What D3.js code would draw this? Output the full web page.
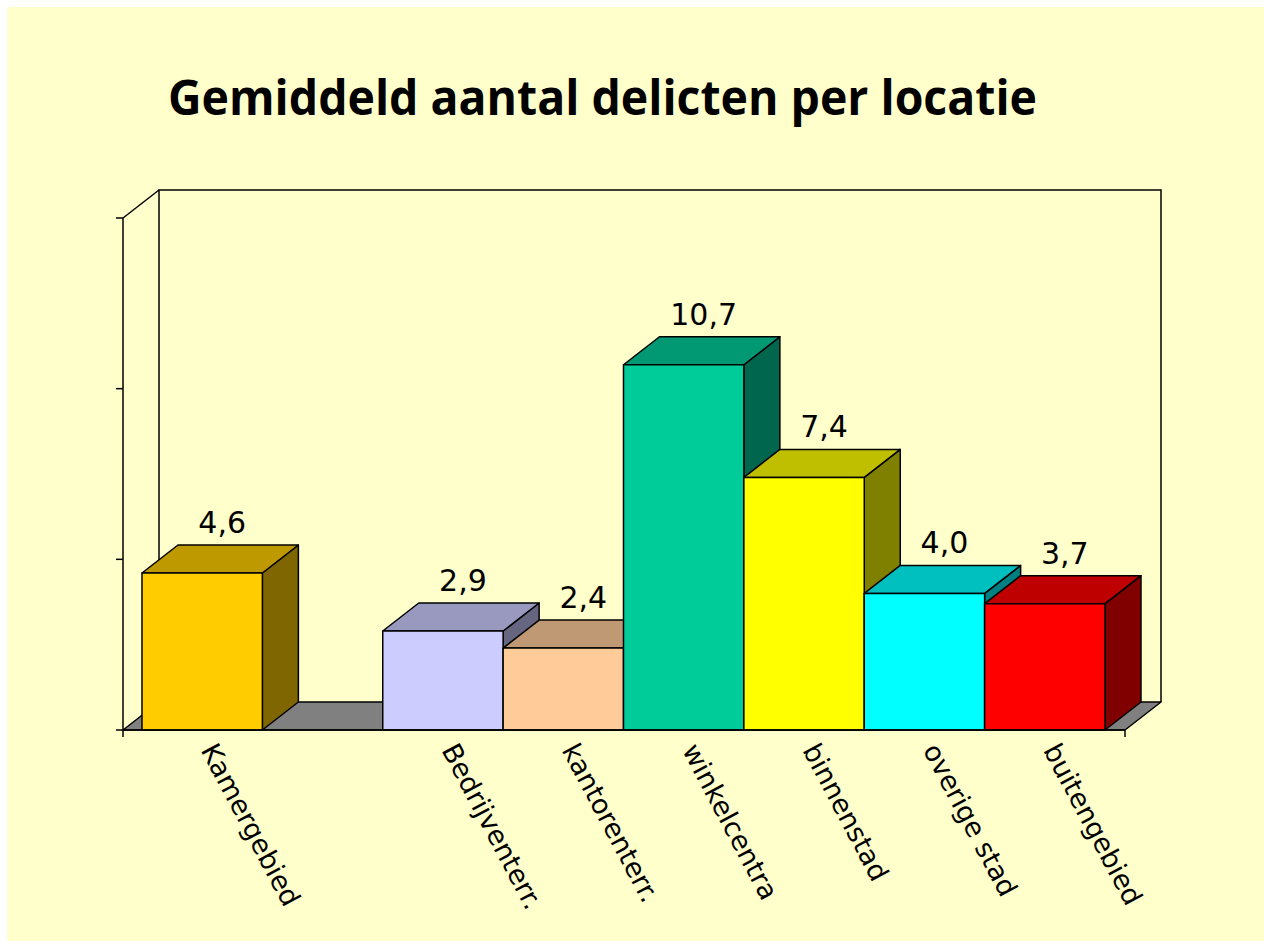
<!DOCTYPE html>
<html>
<head>
  <meta charset="utf-8">
  <script src="https://d3js.org/d3.v7.min.js"></script>
  <style>
      body { margin: 0; background-color: #ffffff; }
      svg { display: block; }
  </style>
</head>
<body>
<script>
var width = 1264;
var height = 941;

// data
var categories = ["Kamergebied", "", "Bedrijventerr.", "kantorenterr.", "winkelcentra", "binnenstad", "overige stad", "buitengebied"];
var values = [4.6, null, 2.9, 2.4, 10.7, 7.4, 4.0, 3.7];
var colors = ["#ffcc00", null, "#ccccff", "#ffcc99", "#00cc99", "#ffff00", "#00ffff", "#ff0000"];
var yTicks = [0, 5, 10, 15];

// 3d offset of the depth
var dx = 36, dy = -28;
var frontLeft = 123, frontRight = 1125;

var svg = d3.select("body")
    .append("svg")
    .attr("width", width)
    .attr("height", height);

svg.append("rect")
    .attr("x", 7).attr("y", 7)
    .attr("width", width - 7).attr("height", height - 7)
    .attr("fill", "#ffffcc");

svg.append("text")
    .attr("x", 168)
    .attr("y", 115)
    .attr("textLength", 869)
    .attr("lengthAdjust", "spacingAndGlyphs")
    .style("font-family", "'Liberation Sans Narrow', 'Open Sans', sans-serif")
    .style("font-weight", "bold")
    .style("font-size", "49px")
    .text("Gemiddeld aantal delicten per locatie");

var x = d3.scaleBand()
    .domain(d3.range(categories.length))
    .range([142, 1105])
    .padding(0);

var y = d3.scaleLinear()
    .domain([0, 15])
    .range([730, 218]);

// back wall
svg.append("path")
    .attr("d", "M" + (frontLeft + dx) + "," + (y(0) + dy) +
        "V" + (y(15) + dy) + "H" + (frontRight + dx) + "V" + (y(0) + dy))
    .attr("fill", "none")
    .attr("stroke", "#000").attr("stroke-width", 1.5);

// floor
svg.append("path")
    .attr("d", "M" + frontLeft + "," + y(0) + "L" + frontRight + "," + y(0) +
        "L" + (frontRight + dx) + "," + (y(0) + dy) + "L" + (frontLeft + dx) + "," + (y(0) + dy) + "Z")
    .attr("fill", "#808080")
    .attr("stroke", "#000").attr("stroke-width", 1.5)
    .attr("stroke-linejoin", "round");

// left axis
svg.append("line")
    .attr("x1", frontLeft).attr("x2", frontLeft)
    .attr("y1", y(15)).attr("y2", y(0) + 7)
    .attr("stroke", "#000").attr("stroke-width", 1.5);
svg.append("line")
    .attr("x1", frontLeft).attr("x2", frontLeft + dx)
    .attr("y1", y(15)).attr("y2", y(15) + dy)
    .attr("stroke", "#000").attr("stroke-width", 1.5);
svg.selectAll("line.ytick")
    .data(yTicks)
    .enter()
    .append("line")
    .attr("class", "ytick")
    .attr("x1", frontLeft - 7).attr("x2", frontLeft)
    .attr("y1", function(d) { return y(d); })
    .attr("y2", function(d) { return y(d); })
    .attr("stroke", "#000").attr("stroke-width", 1.5);
svg.append("line")
    .attr("x1", frontRight).attr("x2", frontRight)
    .attr("y1", y(0)).attr("y2", y(0) + 7)
    .attr("stroke", "#000").attr("stroke-width", 1.5);

// bars, left to right so each one covers the side of the previous
svg.append("g")
    .selectAll("g")
    .data(d3.range(categories.length).filter(function(i) { return values[i] != null; }))
    .enter()
    .append("g")
    .each(function(i) {
        var g = d3.select(this);
        var x0 = x(i), x1 = x(i) + x.bandwidth();
        var top = y(values[i]), bot = y(0);
        var c = d3.color(colors[i]);
        var topCol = d3.rgb(c.r * 0.75, c.g * 0.75, c.b * 0.75);
        var sideCol = d3.rgb(c.r * 0.5, c.g * 0.5, c.b * 0.5);

        g.append("path")
            .attr("d", "M" + x1 + "," + top + "L" + (x1 + dx) + "," + (top + dy) +
                "L" + (x1 + dx) + "," + (bot + dy) + "L" + x1 + "," + bot + "Z")
            .attr("fill", sideCol);
        g.append("path")
            .attr("d", "M" + x0 + "," + top + "L" + (x0 + dx) + "," + (top + dy) +
                "L" + (x1 + dx) + "," + (top + dy) + "L" + x1 + "," + top + "Z")
            .attr("fill", topCol);
        g.append("rect")
            .attr("x", x0).attr("y", top)
            .attr("width", x1 - x0).attr("height", bot - top)
            .attr("fill", c);
        g.selectAll("path, rect")
            .attr("stroke", "#000")
            .attr("stroke-width", 1.5)
            .attr("stroke-linejoin", "round");
    });

// floor front edge again on top
svg.append("line")
    .attr("x1", frontLeft).attr("x2", frontRight)
    .attr("y1", y(0)).attr("y2", y(0))
    .attr("stroke", "#000").attr("stroke-width", 1.5);

var fmt = d3.formatLocale({ decimal: ",", thousands: ".", grouping: [3], currency: ["", ""] }).format(".1f");

svg.selectAll("text.value")
    .data(d3.range(categories.length).filter(function(i) { return values[i] != null; }))
    .enter()
    .append("text")
    .attr("class", "value")
    .attr("x", function(i) { return x(i) + x.bandwidth() / 2 + dx / 2 + 2; })
    .attr("y", function(i) { return y(values[i]) + dy - 12; })
    .attr("text-anchor", "middle")
    .style("font-family", "'DejaVu Sans', sans-serif")
    .style("font-size", "30px")
    .text(function(i) { return fmt(values[i]); });

svg.selectAll("text.cat")
    .data(d3.range(categories.length))
    .enter()
    .append("text")
    .attr("class", "cat")
    .attr("transform", function(i) {
        return "translate(" + (x(i) + x.bandwidth() / 2 - 2) + ",750) rotate(62)";
    })
    .style("font-family", "'DejaVu Sans', sans-serif")
    .style("font-size", "27px")
    .text(function(i) { return categories[i]; });
</script>
</body>
</html>
